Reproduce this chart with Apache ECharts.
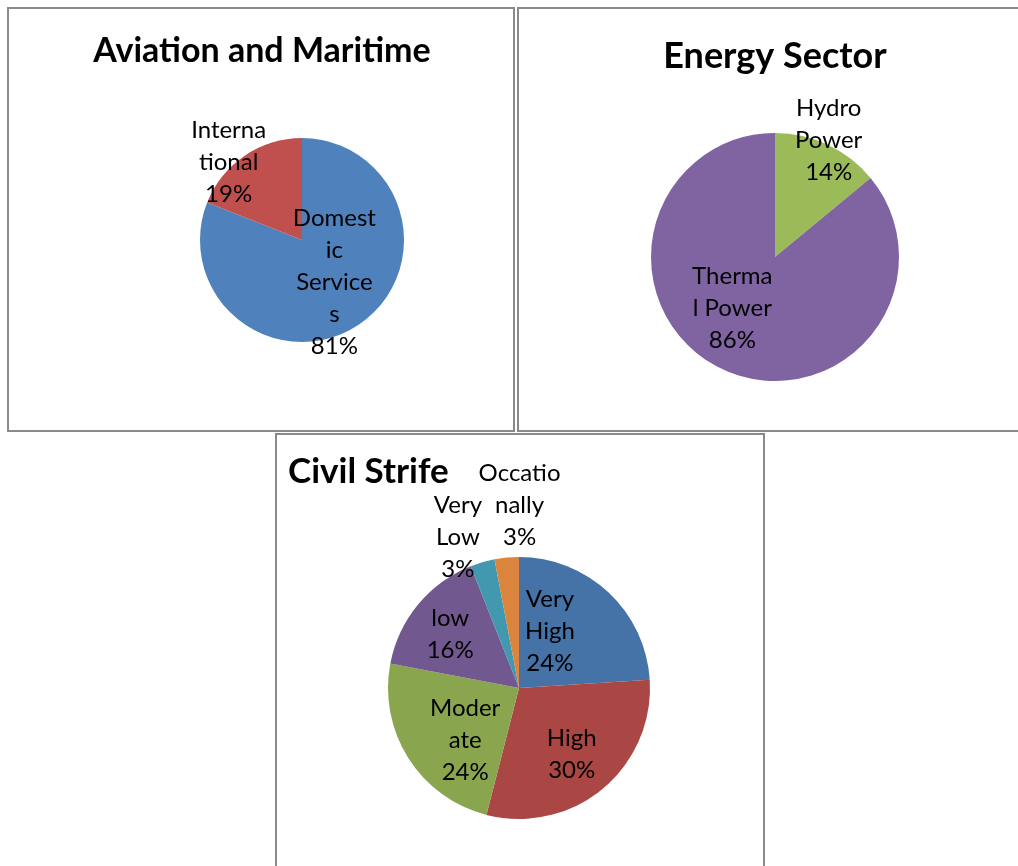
<!DOCTYPE html>
<html>
<head>
<meta charset="utf-8">
<script src="https://cdn.jsdelivr.net/npm/echarts@6/dist/echarts.min.js"></script>
<style>
html,body{margin:0;padding:0;background:#fff;}
#main{width:1018px;height:866px;}
</style>
</head>
<body>
<div id="main"></div>
<script>
// ---- Data ----
var aviationTitle = 'Aviation and Maritime';
var aviationCategories = ['Domestic Services', 'International'];
var aviationValues = [81, 19];
var aviationLabelLines = [['Domest', 'ic', 'Service', 's'], ['Interna', 'tional']];

var energyTitle = 'Energy Sector';
var energyCategories = ['Hydro Power', 'Thermal Power'];
var energyValues = [14, 86];
var energyLabelLines = [['Hydro', 'Power'], ['Therma', 'l Power']];

var civilTitle = 'Civil Strife';
var civilCategories = ['Very High', 'High', 'Moderate', 'low', 'Very Low', 'Occationally'];
var civilValues = [24, 30, 24, 16, 3, 3];
var civilLabelLines = [['Very', 'High'], ['High'], ['Moder', 'ate'], ['low'], ['Very', 'Low'], ['Occatio', 'nally']];

// ---- Styles ----
var aviationColors = ['#4F81BD', '#C0504D'];
var energyColors = ['#9BBB59', '#8064A2'];
var civilColors = ['#4572A7', '#AA4643', '#89A54E', '#71588F', '#4198AF', '#DB843D'];

var aviationShift = [[2, -2], [-43, -33]];
var energyShift = [[26, -58], [-15, -8]];
var civilShift = [[-16, -7], [9, 13], [4, 16], [-16, -10], [-42, -85], [7, -115]];

var FONT = 'Lato, "Open Sans", sans-serif';

function buildData(cats, vals, colors) {
  return cats.map(function (c, i) {
    return { name: c, value: vals[i], itemStyle: { color: colors[i] } };
  });
}

function makePie(cats, vals, lines, colors, shifts, center, radius) {
  return {
    type: 'pie',
    center: center,
    radius: radius,
    startAngle: 90,
    clockwise: true,
    animation: false,
    silent: true,
    avoidLabelOverlap: false,
    itemStyle: { borderWidth: 0 },
    label: {
      show: true,
      position: 'inside',
      color: '#000',
      fontFamily: FONT,
      fontSize: 24,
      lineHeight: 32,
      textBorderWidth: 0,
      align: 'center',
      formatter: function (p) {
        return lines[p.dataIndex].concat([Math.round(p.percent) + '%']).join('\n');
      }
    },
    labelLine: { show: false },
    labelLayout: function (p) {
      var s = shifts[p.dataIndex];
      return { dx: s[0], dy: s[1] };
    },
    data: buildData(cats, vals, colors)
  };
}

var chart = echarts.init(document.getElementById('main'), null, { renderer: 'canvas' });

var option = {
  backgroundColor: '#fff',
  animation: false,
  graphic: [
    { type: 'rect', shape: { x: 8, y: 8, width: 506, height: 423 }, style: { fill: 'none', stroke: '#8a8a8a', lineWidth: 2 } },
    { type: 'rect', shape: { x: 518, y: 8, width: 520, height: 423 }, style: { fill: 'none', stroke: '#8a8a8a', lineWidth: 2 } },
    { type: 'rect', shape: { x: 276, y: 434, width: 488, height: 460 }, style: { fill: 'none', stroke: '#8a8a8a', lineWidth: 2 } },
    { type: 'text', x: 262, y: 51, style: { text: aviationTitle, font: 'bold 34px ' + FONT, fill: '#000', textAlign: 'center', textVerticalAlign: 'middle' } },
    { type: 'text', x: 775, y: 56, style: { text: energyTitle, font: 'bold 36px ' + FONT, fill: '#000', textAlign: 'center', textVerticalAlign: 'middle' } },
    { type: 'text', x: 288, y: 472, style: { text: civilTitle, font: 'bold 35px ' + FONT, fill: '#000', textAlign: 'left', textVerticalAlign: 'middle' } }
  ],
  series: [
    makePie(aviationCategories, aviationValues, aviationLabelLines, aviationColors, aviationShift, [302, 240], 102),
    makePie(energyCategories, energyValues, energyLabelLines, energyColors, energyShift, [775, 257], 124),
    makePie(civilCategories, civilValues, civilLabelLines, civilColors, civilShift, [519, 688], 131)
  ]
};
chart.setOption(option);
</script>
</body>
</html>
